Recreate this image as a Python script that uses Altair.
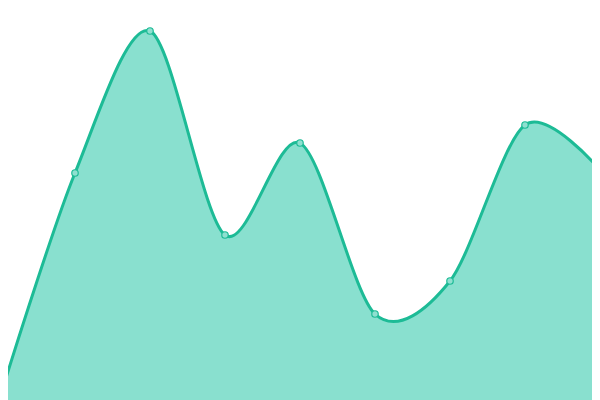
import altair as alt
import pandas as pd

xs = [0, 1, 2, 3, 4, 5, 6, 7, 8]
values = [3, 227, 369, 165, 257, 86, 119, 275, 230]

df = pd.DataFrame({"x": xs, "v": values})

# The visible plot is 592 px wide while the reference spans 600 px:
# extend the domain so the last category lands at the right window edge.
x_max = 8 * 592 / 600

base = alt.Chart(df).encode(
    x=alt.X("x:Q", scale=alt.Scale(domain=[0, x_max], nice=False, zero=False), axis=None),
    y=alt.Y("v:Q", scale=alt.Scale(domain=[0, 400], nice=False), axis=None),
)

area = base.mark_area(
    interpolate="cardinal",
    tension=0.1,
    color="#89e0cf",
    opacity=1,
    fillOpacity=1,
)

line = base.mark_line(
    interpolate="cardinal",
    tension=0.1,
    color="#1dbb96",
    strokeWidth=3,
)

points = base.mark_point(
    filled=True,
    fill="#8fe0d0",
    stroke="#1dbb96",
    strokeWidth=1.2,
    size=42,
    opacity=1,
)

chart = (
    alt.layer(area, line, points)
    .properties(
        width=592,
        height=400,
        autosize=alt.AutoSizeParams(type="none"),
        padding={"left": -8, "top": -8, "right": 0, "bottom": 0},
    )
    .configure_view(stroke=None)
)

chart.save("out.html", embed_options={"renderer": "svg", "actions": False})
